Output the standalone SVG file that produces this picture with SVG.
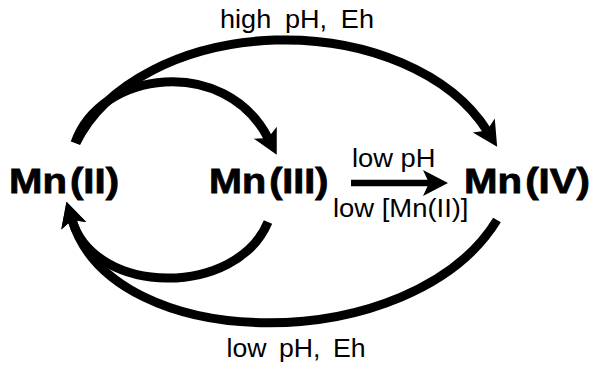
<svg xmlns="http://www.w3.org/2000/svg" width="591" height="368" viewBox="0 0 591 368">
  <style>
    .node { font-family: "Liberation Sans", Arial, sans-serif; font-weight: bold; font-size: 35px; fill: #000; stroke: #000; stroke-width: 0.8px; word-spacing: -7px; }
    .lbl { font-family: "Liberation Sans", Arial, sans-serif; font-size: 26px; fill: #000; }
    .edge { fill: none; stroke: #000; stroke-width: 9; stroke-linecap: butt; }
    .straight { fill: none; stroke: #000; stroke-width: 6.5; }
  </style>
  <defs>
    <marker id="ah" markerUnits="userSpaceOnUse" markerWidth="26" markerHeight="27" refX="6" refY="13" orient="auto" overflow="visible">
      <path d="M0,0 L25,13 L0,26 L6,13 Z" fill="#000"/>
    </marker>
  </defs>
  <rect width="591" height="368" fill="#fff"/>

  <g id="connectors">
    <path id="e-mn2-mn4" class="edge" d="M76,143 A220,150 0 0 1 487,130.6" marker-end="url(#ah)"/>
    <path id="e-mn2-mn3" class="edge" d="M75,143 C100,70 225,55 268,138" marker-end="url(#ah)"/>
    <path id="e-mn4-mn2" class="edge" d="M497,220 C413,357 113.5,357 72,220" marker-end="url(#ah)"/>
    <path id="e-mn3-mn2" class="edge" d="M268,222 C237,297 95.3,297 72,220" marker-end="url(#ah)"/>
    <path id="e-mn3-mn4" class="straight" d="M351,183 L429,183" marker-end="url(#ah)"/>
    <g id="edge-labels">
      <text class="lbl" x="220" y="28" word-spacing="6" textLength="154" lengthAdjust="spacingAndGlyphs">high pH, Eh</text>
      <text class="lbl" x="226.5" y="357" word-spacing="5" textLength="139" lengthAdjust="spacingAndGlyphs">low pH, Eh</text>
      <text class="lbl" x="352" y="167" textLength="83.5" lengthAdjust="spacingAndGlyphs">low pH</text>
      <text class="lbl" x="333" y="217" textLength="135.5" lengthAdjust="spacingAndGlyphs">low [Mn(II)]</text>
    </g>
  </g>

  <g id="mn2">
    <text class="node" x="9" y="193" textLength="110" lengthAdjust="spacingAndGlyphs">Mn (II)</text>
  </g>
  <g id="mn3">
    <text class="node" x="209" y="193" textLength="119.5" lengthAdjust="spacingAndGlyphs">Mn (III)</text>
  </g>
  <g id="mn4">
    <text class="node" x="464" y="193" textLength="126" lengthAdjust="spacingAndGlyphs">Mn (IV)</text>
  </g>
</svg>
